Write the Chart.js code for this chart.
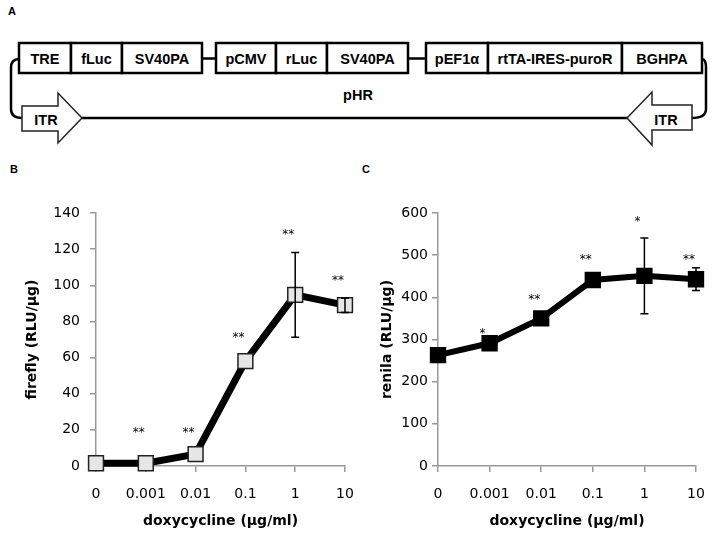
<!DOCTYPE html>
<html>
<head>
<meta charset="utf-8">
<script src="https://cdn.jsdelivr.net/npm/chart.js@4.4.1/dist/chart.umd.min.js"></script>
<style>
  body { margin: 0; background: #fff; }
  #wrap { position: relative; width: 714px; height: 538px; overflow: hidden; }
  #diagram { position: absolute; left: 0; top: 0; }
  #chartB { position: absolute; left: 0; top: 175px; }
  #chartC { position: absolute; left: 357px; top: 175px; }
  .panel { position: absolute; font: bold 11px "Liberation Sans", Arial, sans-serif; }
</style>
</head>
<body>
<div id="wrap">
  <svg id="diagram" width="714" height="170" xmlns="http://www.w3.org/2000/svg"
       font-family="Liberation Sans, Arial, sans-serif" font-weight="bold" font-size="14.5">
    <!-- loop + backbone -->
    <g fill="none" stroke="#000" stroke-width="2.5">
      <path d="M19,59 Q11,59 11,68 L11,109 Q11,118 22,118"/>
      <path d="M702,59 Q706,59 706,68 L706,109 Q706,118 692,118"/>
      <line x1="82" y1="118" x2="627" y2="118"/>
      <line x1="202" y1="58.5" x2="216" y2="58.5"/>
      <line x1="408" y1="58.5" x2="426" y2="58.5"/>
    </g>
    <!-- cassette boxes -->
    <g fill="#fff" stroke="#000" stroke-width="2.5">
      <rect x="19" y="43" width="52" height="30"/>
      <rect x="71" y="43" width="51" height="30"/>
      <rect x="122" y="43" width="80" height="30"/>
      <rect x="216" y="43" width="60" height="30"/>
      <rect x="276" y="43" width="51" height="30"/>
      <rect x="327" y="43" width="81" height="30"/>
      <rect x="426" y="43" width="62" height="30"/>
      <rect x="488" y="43" width="134" height="30"/>
      <rect x="622" y="43" width="80" height="30"/>
    </g>
    <g text-anchor="middle" dominant-baseline="central" fill="#000">
      <text x="45" y="59">TRE</text>
      <text x="96.5" y="59">fLuc</text>
      <text x="162" y="59">SV40PA</text>
      <text x="246" y="59">pCMV</text>
      <text x="301.5" y="59">rLuc</text>
      <text x="367.5" y="59">SV40PA</text>
      <text x="457" y="59">pEF1α</text>
      <text x="555" y="59">rtTA-IRES-puroR</text>
      <text x="662" y="59">BGHPA</text>
      <text x="358" y="95">pHR</text>
    </g>
    <!-- ITR arrows -->
    <g fill="#fff" stroke="#222" stroke-width="1.5">
      <polygon points="22,106 58,106 58,93 82,118 58,143 58,131 22,131"/>
      <polygon points="692,105 652,105 652,92 627,118 652,145 652,130 692,130"/>
    </g>
    <g text-anchor="middle" dominant-baseline="central" fill="#000">
      <text x="46" y="120">ITR</text>
      <text x="666" y="120">ITR</text>
    </g>
  </svg>
  <div class="panel" style="left:8px;top:5px;">A</div>
  <div class="panel" style="left:10px;top:163px;">B</div>
  <div class="panel" style="left:362px;top:163px;">C</div>
  <canvas id="chartB" width="357" height="363"></canvas>
  <canvas id="chartC" width="357" height="363"></canvas>
</div>
<script>
// doxycycline doses (µg/ml)
const doses = ['0', '0.001', '0.01', '0.1', '1', '10'];

// firefly luciferase, RLU/µg
const fireflyMean = [1.5, 1.5, 6.6, 58, 94.7, 89];
const fireflyErr = [0, 0, 0, 0, 23.5, 4];
const fireflySig = ['', '**', '**', '**', '**', '**'];
const fireflySigY = [null, 20.3, 20.3, 73, 130, 104.5];

// renilla luciferase, RLU/µg
const renillaMean = [263, 291, 350, 441, 451, 443];
const renillaErr = [0, 0, 0, 0, 90, 27];
const renillaSig = ['', '*', '**', '**', '*', '**'];
const renillaSigY = [null, 322, 402, 499, 588, 499];

Chart.defaults.font.family = '"DejaVu Sans", sans-serif';
Chart.defaults.color = '#000';

// error bars + significance stars
const extrasPlugin = {
    id: 'extras',
    afterDatasetsDraw(chart, args, opts) {
        const ctx = chart.ctx;
        const xs = chart.scales.x, ys = chart.scales.y;
        const mean = chart.data.datasets[0].data;
        ctx.save();
        ctx.strokeStyle = '#000';
        ctx.lineWidth = 1.5;
        opts.err.forEach(function (e, i) {
            if (!e) return;
            const x = xs.getPixelForValue(i);
            const top = ys.getPixelForValue(mean[i] + e);
            const bot = ys.getPixelForValue(mean[i] - e);
            ctx.beginPath();
            ctx.moveTo(x, top); ctx.lineTo(x, bot);
            ctx.moveTo(x - 4, top); ctx.lineTo(x + 4, top);
            ctx.moveTo(x - 4, bot); ctx.lineTo(x + 4, bot);
            ctx.stroke();
        });
        ctx.fillStyle = '#000';
        ctx.font = '12px "DejaVu Sans"';
        ctx.textAlign = 'center';
        ctx.textBaseline = 'alphabetic';
        opts.sig.forEach(function (s, i) {
            if (!s) return;
            const x = xs.getPixelForValue(i) - 7;
            const y = ys.getPixelForValue(opts.sigY[i]);
            ctx.fillText(s, x, y + 7);
        });
        ctx.restore();
    }
};

function make_chart(id, vals, opts) {
    const axisGrey = '#999';
    return new Chart(document.getElementById(id), {
        type: 'line',
        data: {
            labels: doses,
            datasets: [{
                data: vals,
                borderColor: '#000',
                borderWidth: opts.lineWidth,
                pointStyle: 'rect',
                pointRadius: 10.5,
                pointHoverRadius: 10.5,
                pointBackgroundColor: opts.pointFill,
                pointBorderColor: opts.pointEdge,
                pointBorderWidth: 1.5,
                tension: 0,
                clip: false
            }]
        },
        options: {
            responsive: false,
            animation: false,
            events: [],
            layout: { padding: { left: 10, right: opts.padRight, top: 38, bottom: 0 } },
            plugins: {
                legend: { display: false },
                tooltip: { enabled: false },
                extras: { err: opts.err, sig: opts.sig, sigY: opts.sigY }
            },
            scales: {
                x: {
                    offset: false,
                    grid: { drawOnChartArea: false, drawTicks: true, tickLength: 6, color: axisGrey, lineWidth: 1.5 },
                    border: { color: axisGrey, width: 1.5 },
                    ticks: { font: { size: 14 }, padding: 14, maxRotation: 0 },
                    title: {
                        display: true,
                        text: 'doxycycline (μg/ml)',
                        font: { size: 14, weight: 'bold' },
                        padding: { top: 0, bottom: 8 }
                    },
                    afterFit: function (s) {
                        s.height = 72;
                        s.paddingLeft = 0;
                        s.paddingRight = 0;
                    }
                },
                y: {
                    min: 0,
                    max: opts.yMax,
                    grid: { drawOnChartArea: false, drawTicks: true, tickLength: 6, color: axisGrey, lineWidth: 1.5 },
                    border: { color: axisGrey, width: 1.5 },
                    ticks: { stepSize: opts.yStep, font: { size: 14 }, padding: opts.tickPad },
                    title: {
                        display: true,
                        text: opts.yTitle,
                        font: { size: 14, weight: 'bold' },
                        padding: { top: opts.titlePad, bottom: 0 }
                    },
                    afterFit: function (s) { s.width = opts.axisWidth; }
                }
            }
        },
        plugins: [extrasPlugin]
    });
}

make_chart('chartB', fireflyMean, {
    lineWidth: 7, pointFill: '#e6e6e6', pointEdge: '#222',
    err: fireflyErr, sig: fireflySig, sigY: fireflySigY,
    yMax: 140, yStep: 20, yTitle: 'firefly (RLU/μg)',
    axisWidth: 86, padRight: 12, tickPad: 10, titlePad: 14
});

make_chart('chartC', renillaMean, {
    lineWidth: 6, pointFill: '#000', pointEdge: '#000',
    err: renillaErr, sig: renillaSig, sigY: renillaSigY,
    yMax: 600, yStep: 100, yTitle: 'renila (RLU/μg)',
    axisWidth: 71, padRight: 18, tickPad: 4, titlePad: 12
});
</script>
</body>
</html>
